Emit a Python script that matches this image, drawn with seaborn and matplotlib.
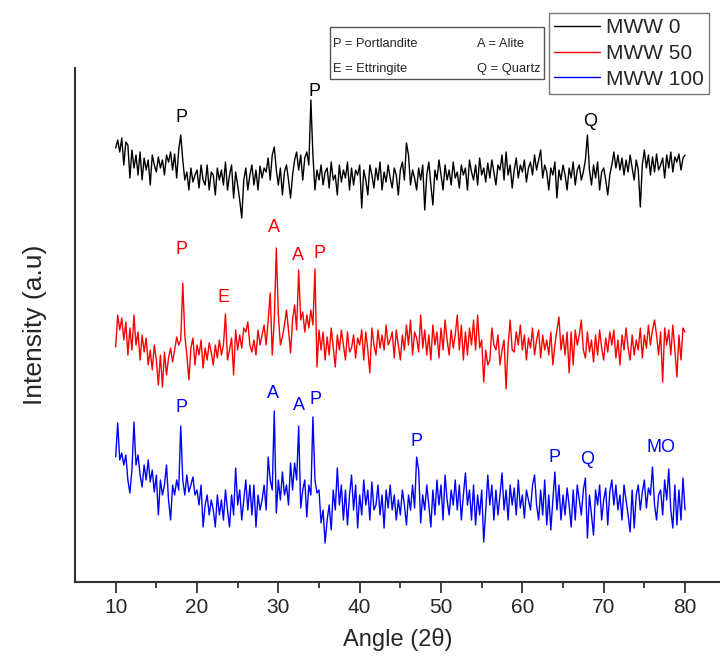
import numpy as np
import pandas as pd
import matplotlib.pyplot as plt
import seaborn as sns
from matplotlib.lines import Line2D
from matplotlib.patches import Rectangle

# XRD patterns, 10-80 deg in 0.25 deg steps (arbitrary units)
angle = np.linspace(10, 80, 281)

mww0 = [
    12, 20, 8, 22,  -5, 18, 15, -18,  10, -8, 5, -15,  8, -20, 2, -10,
    0, -25, 5, -5,  -12, 3, -8, 0,  -15, 5, -2, 8,  -10, 6, -18, 10,
    25, 0, -20, -12,  -30, -8, -22, -15,  -10, -28, -5, -20,  -25, -5, -30, -12,
    -15, -35, -8, -20,  -10, -25, -2, -30,  -15, -5, -38, -12,  -25, -40, -58, -20,
    -8, -30, -15, -5,  -25, -10, -30, -6,  -18, -8, -12, 2,  -20, 5, 13, -10,
    -25, -8, -35, -12,  -5, -20, -38, -15,  0, 8, -10, 5,  -20, 2, 8, -5,
    60, 5, -30, -10,  -20, -5, -25, -12,  -8, -28, -2, -20,  -15, -35, -5, -22,
    -10, -18, -2, -30,  -8, -25, -10, -15,  -5, -48, -10, -20,  -35, -5, -15, -28,
    -8, -20, -2, -30,  -12, -22, -5, -18,  -28, -8, -15, -35,  -10, -2, -20, 17,
    5, -25, -10, -18,  -30, -8, -20, -5,  -50, -15, -2, -25,  -45, -10, -20, 0,
    -15, -30, -5, -20,  -10, -25, -2, -18,  -12, -28, -5, -15,  -8, -30, 0, -12,
    -20, -5, -25, 2,  -15, -8, -22, -3,  -18, 0, -12, -25,  -5, -10, 5, -20,
    8, -15, -5, -28,  -10, 2, -18, -5,  -12, 0, -22, -8,  -2, -15, 5, -10,
    0, 10, -18, -5,  -12, -30, -8, -15,  -2, -38, -10, -20,  -5, -15, -30, -8,
    -18, -2, -25, -10,  -5, -20, -12, 0,  25, -10, -25, -5,  -18, -2, -30, -12,
    -8, -20, -35, -15,  -5, 8, -8, 5,  -10, 2, -15, 0,  -12, 5, -8, -20,
    0, -10, -47, -5,  10, -8, 5, -15,  3, -12, 6, -10,  -5, 2, -18, 5,
    -8, 8, -12, 3,  -2, 6, -10, 2,
    5,
]

mww50 = [
    -7, 25, 10, 22,  0, 18, -15, 12,  -10, 25, -5, 8,  -20, 5, -12, 2,
    -25, -10, -30, -5,  -20, -45, -15, -47,  -12, -35, -18, -8,  -22, -10, 3, -5,
    0, 57, 5, -15,  -40, -8, 2, -25,  -5, -15, 0, -28,  -8, -20, -3, -12,
    -25, -5, -18, 0,  -15, -5, 26, -20,  -10, 2, -35, 10,  -10, 5, -8, 12,
    8, 18, -5, -12,  0, -15, 10, -5,  5, 15, -5, 20,  47, -15, 20, 92,
    25, -5, 3, 15,  30, 10, -13, 20,  35, 10, 70, 20,  28, 8, 25, 12,
    30, 15, 71, -27,  10, -10, 8, -20,  3, -15, 12, -8,  -27, 5, -10, 10,
    -5, -20, 8, -12,  -8, 5, -18, 2,  -5, 10, -20, 8,  -10, -33, 12, -5,
    -15, 10, -8, 5,  -10, 15, -5, 0,  8, -18, 10, -5,  -20, 5, -10, 15,
    -5, 20, -15, 8,  2, -12, 25, -8,  10, -15, 5, -20,  15, -5, 8, -18,
    12, -10, 20, 0,  -15, 10, -8, 5,  25, -10, 15, -20,  8, -15, 12, -5,
    20, -10, 25, -8,  0, -42, -10, -25,  -20, 12, -5, -10,  5, -25, -10, 0,
    -49, -5, 20, -10,  -12, 8, -5, 15,  -10, 5, -20, 2,  -8, 12, -15, 0,
    10, -18, 5, -10,  0, -15, 8, -25,  -5, 10, 23, -10,  5, -15, 8, -33,
    8, -25, 10, -5,  5, 20, -10, -18,  8, -12, 0, -22,  5, -15, 10, -8,
    -20, 2, -12, 8,  -5, 10, -18, 0,  -25, 5, -10, 12,  -8, -20, 5, -15,
    0, -10, 12, -18,  5, -8, 15, -5,  10, 20, 5, -15,  8, -42, 12, -5,
    10, -15, 15, -10,  -37, 5, -20, 12,
    8,
]

mww100 = [
    43, 77, 40, 47,  35, 45, 20, 7,  30, 78, 35, 45,  25, 13, 35, 20,
    40, 18, 30, 8,  25, -15, 20, 5,  15, 35, 0, -20,  15, 5, 20, 10,
    74, 20, 5, 25,  8, 15, 23, 5,  10, -5, 15, -27,  -5, 5, -15, 0,
    -10, -27, 5, -15,  0, -20, 10, -10,  -27, 5, -15, 32,  -5, 10, -20, 0,
    20, -10, 15, -15,  15, -27, 5, -10,  0, 15, -10, 43,  20, 10, 89, -13,
    20, 0, 28, 5,  15, -5, 37, 10,  37, 20, 74, -8,  10, 20, -17, 15,
    5, 83, 20, 7,  10, -23, -10, -43,  -20, -5, -30, 10,  -10, 32, -5, 15,
    -20, 10, -25, 5,  25, -10, 15, -28,  5, -15, 20, -5,  10, -20, 18, -10,
    -5, 15, -15, 5,  -28, 10, -8, 15,  -10, 5, -20, 0,  -15, 10, -5, -25,
    5, -10, 15, -8,  43, 30, -23, 5,  -10, 15, -5, -27,  10, -15, 20, -5,
    15, -20, 25, 0,  -15, 10, -5, 20,  -10, 15, -20, 5,  27, -5, 10, -20,
    15, -25, 5, -15,  10, -42, -10, 25,  -5, 15, -20, 10,  -15, 5, 27, -10,
    10, -20, 15, -5,  12, -15, 20, -8,  5, -18, 10, 0,  -10, 15, 25, -5,
    -20, 10, -15, 20,  -25, 5, -30, 0,  28, -10, 15, -20,  5, -15, 12, -5,
    -27, 10, -20, 15,  0, -15, 10, 22,  -38, 5, -15, -35,  10, -5, 15, -20,
    0, 12, -25, 8,  20, -5, 15, -10,  5, -20, 15, 0,  -15, -32, 10, -28,
    5, 15, -10, 8,  20, -8, 12, 5,  33, -5, -20, 5,  10, -15, 20, 0,
    31, -10, -28, 15,  -25, 10, -20, 22,
    -10,
]

samples = ['MWW 0', 'MWW 50', 'MWW 100']
offsets = [422, 242, 82]
colors = ['black', 'red', 'blue']

# peak labels: (angle, height, text)
peaks0 = [(18.1, 464, 'P'), (34.5, 490, 'P'), (68.3, 460, 'Q')]
peaks50 = [(18.1, 333, 'P'), (23.3, 284, 'E'), (29.5, 354, 'A'),
           (32.4, 327, 'A'), (35.0, 328, 'P')]
peaks100 = [(18.1, 175, 'P'), (29.4, 189, 'A'), (32.5, 177, 'A'),
            (34.6, 182, 'P'), (47.0, 140, 'P'), (64.0, 125, 'P'),
            (68.0, 122, 'Q'), (77.1, 135, 'MO')]

frames = []
for name, vals, off in zip(samples, [mww0, mww50, mww100], offsets):
    frames.append(pd.DataFrame({'angle': angle,
                                'intensity': np.array(vals) + off,
                                'sample': name}))
df = pd.concat(frames, ignore_index=True)

sns.set_style('ticks')
plt.rcParams['font.family'] = ['Liberation Sans', 'DejaVu Sans']

fig = plt.figure(figsize=(7.2, 6.6), dpi=100)
ax = fig.add_axes([75 / 720, 78 / 660, 645 / 720, 514 / 660])

sns.lineplot(data=df, x='angle', y='intensity', hue='sample',
             palette=dict(zip(samples, colors)), linewidth=1.0,
             estimator=None, sort=False, legend=False, ax=ax)

for peaks, c in zip([peaks0, peaks50, peaks100], colors):
    for x, y, s in peaks:
        ax.text(x, y, s, color=c, fontsize=13, ha='center', va='center')

ax.set_xlim(5, 84.3)
ax.set_ylim(0, 514)
ax.set_xticks(range(10, 81, 10))
ax.set_xticks(range(15, 80, 10), minor=True)
ax.set_yticks([])
ax.tick_params(axis='x', which='major', length=8, width=1.3, color='#333333',
               labelsize=15, direction='out')
ax.tick_params(axis='x', which='minor', length=4, width=1.3, color='#333333',
               direction='out')
for side in ['top', 'right']:
    ax.spines[side].set_visible(False)
for side in ['left', 'bottom']:
    ax.spines[side].set_linewidth(1.5)
    ax.spines[side].set_color('#333333')

ax.set_xlabel('Angle (2θ)', fontsize=17, labelpad=8)
ax.set_ylabel('Intensity (a.u)', fontsize=19, labelpad=20)

handles = [Line2D([], [], color=c, lw=1) for c in colors]
leg = fig.legend(handles, samples, loc='upper right',
                 bbox_to_anchor=(709 / 720, 1 - 13 / 660),
                 fontsize=15, frameon=True, fancybox=False,
                 handlelength=2.2, labelspacing=0.32, borderpad=0.25,
                 handletextpad=0.3, borderaxespad=0)
leg.get_frame().set_edgecolor('#555555')
leg.get_frame().set_linewidth(1)

fig.add_artist(Rectangle((330 / 720, 1 - 79 / 660), 214 / 720, 52 / 660,
                         transform=fig.transFigure, fill=False,
                         edgecolor='#555555', lw=1))
key_text = [(333, 44, 'P = Portlandite'), (477, 44, 'A = Alite'),
            (333, 69, 'E = Ettringite'), (477, 69, 'Q = Quartz')]
for x, y, s in key_text:
    fig.text(x / 720, 1 - y / 660, s, fontsize=9.3, ha='left', va='center')

fig.savefig('out.png', dpi=100)
